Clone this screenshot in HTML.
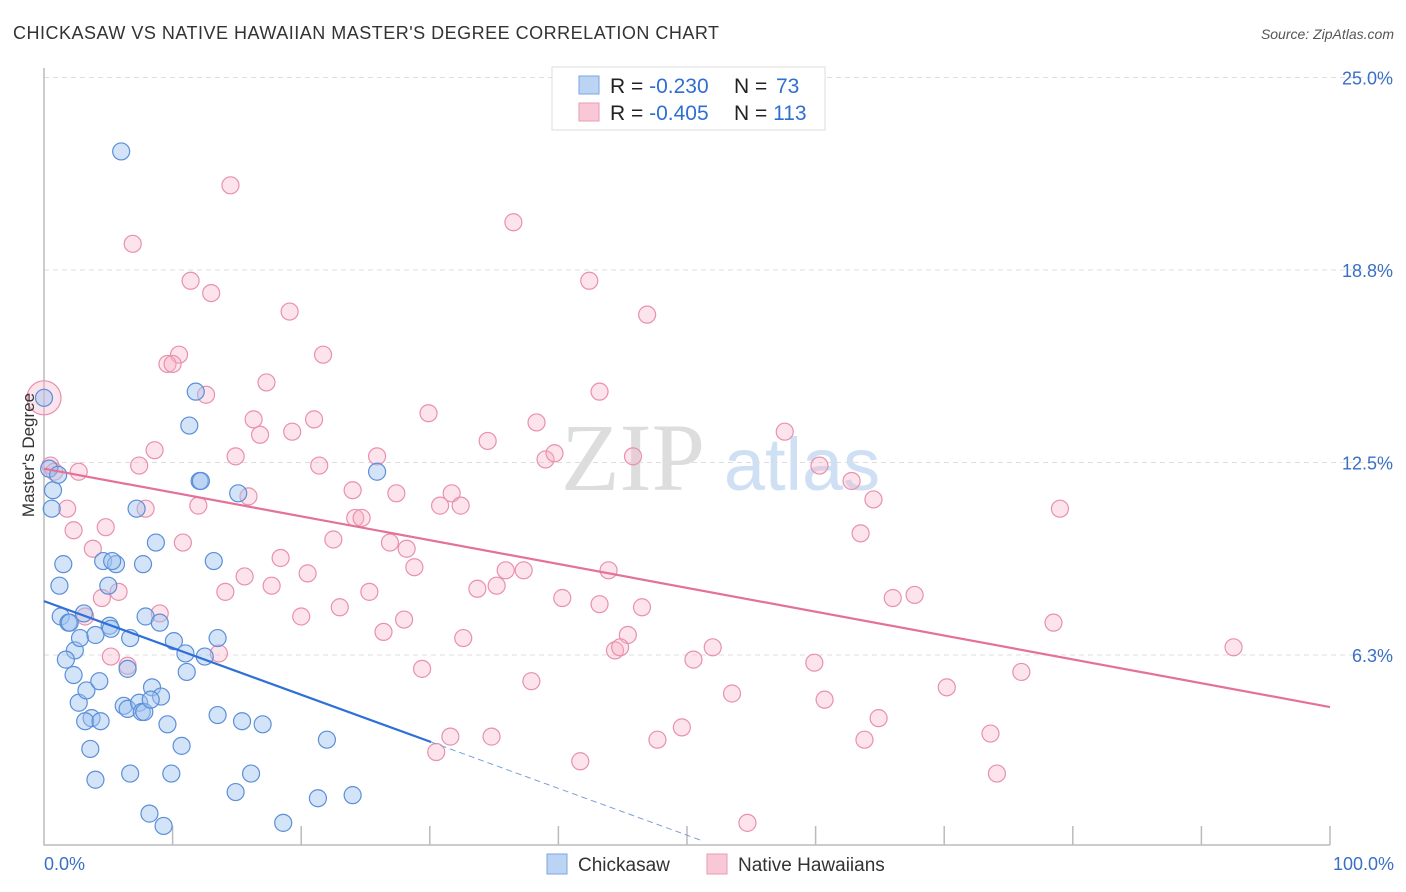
<!DOCTYPE html>
<html><head><meta charset="utf-8"><style>
body{margin:0;background:#fff;font-family:"Liberation Sans",sans-serif;}
svg{display:block}
</style></head><body>
<svg id="chart" width="1406" height="892" viewBox="0 0 1406 892">
<text x="13" y="39" font-size="18" letter-spacing="0.5" fill="#333">CHICKASAW VS NATIVE HAWAIIAN MASTER'S DEGREE CORRELATION CHART</text>
<text x="1394" y="39" font-size="14" fill="#555" font-style="italic" text-anchor="end">Source: ZipAtlas.com</text>
<g>
<text x="633" y="490" font-size="96" font-family="Liberation Serif,serif" fill="#ddd" text-anchor="middle">ZIP</text>
<text x="802" y="490" font-size="74" fill="#cfe0f4" text-anchor="middle">atlas</text>
</g>
<g id="grid"></g>
<g id="axes"></g>
<g id="marks"></g>
<g>
<rect x="552" y="67" width="273" height="63" fill="#fff" stroke="#ddd"/>
<rect x="579" y="76" width="20" height="18" fill="#bcd4f4" stroke="#7aa6e0"/>
<rect x="579" y="103" width="20" height="18" fill="#f9c8d6" stroke="#eb9ab4"/>
<text x="610" y="93" font-size="21" fill="#222">R = <tspan fill="#2f6fd0">-0.230</tspan><tspan x="734">N = </tspan><tspan fill="#2f6fd0" x="776">73</tspan></text>
<text x="610" y="120" font-size="21" fill="#222">R = <tspan fill="#2f6fd0">-0.405</tspan><tspan x="734">N = </tspan><tspan fill="#2f6fd0">113</tspan></text>
</g>
<g>
<rect x="547" y="854" width="20" height="20" fill="#bcd4f4" stroke="#7aa6e0"/>
<text x="578" y="871" font-size="19" fill="#333">Chickasaw</text>
<rect x="707" y="854" width="20" height="20" fill="#f9c8d6" stroke="#eb9ab4"/>
<text x="738" y="871" font-size="19" fill="#333">Native Hawaiians</text>
</g>
<text transform="translate(34,455) rotate(-90)" font-size="17" fill="#333" text-anchor="middle">Master's Degree</text>
</svg>
<script>
const yTicks=[6.25,12.5,18.75,25];
const yTickLabels=["6.3%","12.5%","18.8%","25.0%"];
const xTickLabels=["0.0%","100.0%"];
const blueX=[6.0,0.0,0.4,0.7,0.6,1.1,1.5,1.2,1.3,1.9,2.0,2.4,1.7,2.3,3.1,2.8,4.0,5.1,5.2,2.7,3.3,4.3,3.7,3.2,4.4,3.6,4.0,4.6,5.6,5.0,5.3,6.7,6.5,7.2,7.7,7.9,8.7,9.0,6.2,6.5,7.4,7.6,7.8,8.4,9.1,8.3,9.6,10.7,6.7,9.9,8.2,9.3,10.1,11.0,11.1,11.8,11.3,12.1,12.2,13.2,13.5,12.5,13.5,15.4,17.0,16.1,14.9,15.1,18.6,21.3,22.0,24.0,25.9];
const blueY=[22.6,14.6,12.3,11.6,11.0,12.1,9.2,8.5,7.5,7.3,7.3,6.4,6.1,5.6,7.6,6.8,6.9,7.2,7.1,4.7,5.1,5.4,4.2,4.1,4.1,3.2,2.2,9.3,9.2,8.5,9.3,6.8,5.8,11.0,9.2,7.5,9.9,7.3,4.6,4.5,4.7,4.4,4.4,5.2,4.9,4.8,4.0,3.3,2.4,2.4,1.1,0.7,6.7,6.3,5.7,14.8,13.7,11.9,11.9,9.3,6.8,6.2,4.3,4.1,4.0,2.4,1.8,11.5,0.8,1.6,3.5,1.7,12.2];
const pinkX=[14.5,6.9,36.5,11.4,13.0,19.1,42.4,46.9,10.5,9.6,10.0,21.7,12.6,17.3,43.2,16.3,21.0,29.9,38.3,57.6,16.8,19.3,34.5,8.6,14.9,25.9,39.0,39.7,45.8,0.5,0.8,2.7,7.4,21.4,60.3,62.8,15.9,24.0,27.4,31.7,1.8,7.9,12.0,30.8,32.4,64.5,24.2,24.7,79.0,2.3,4.8,22.5,26.9,28.2,63.5,10.8,3.8,18.4,15.6,20.5,28.8,35.9,37.3,43.9,5.8,14.1,17.7,33.7,35.2,4.5,9.0,23.0,25.3,40.3,43.2,46.5,66.0,67.7,3.2,20.0,28.0,45.4,26.4,32.6,78.5,44.4,44.8,52.0,92.5,5.2,6.5,13.6,50.5,59.9,29.4,37.9,76.0,70.2,53.5,60.7,64.9,49.6,31.6,34.8,47.7,63.8,73.6,30.5,41.7,74.1,54.7];
const pinkY=[21.5,19.6,20.3,18.4,18.0,17.4,18.4,17.3,16.0,15.7,15.7,16.0,14.7,15.1,14.8,13.9,13.9,14.1,13.8,13.5,13.4,13.5,13.2,12.9,12.7,12.7,12.6,12.8,12.7,12.4,12.2,12.2,12.4,12.4,12.4,11.9,11.4,11.6,11.5,11.5,11.0,11.0,11.1,11.1,11.1,11.3,10.7,10.7,11.0,10.3,10.4,10.0,9.9,9.7,10.2,9.9,9.7,9.4,8.8,8.9,9.1,9.0,9.0,9.0,8.3,8.3,8.5,8.4,8.5,8.1,7.6,7.8,8.3,8.1,7.9,7.8,8.1,8.2,7.5,7.5,7.4,6.9,7.0,6.8,7.3,6.4,6.5,6.5,6.5,6.2,5.9,6.3,6.1,6.0,5.8,5.4,5.7,5.2,5.0,4.8,4.2,3.9,3.6,3.6,3.5,3.5,3.7,3.1,2.8,2.4,0.8];
const bigPink=[0.0,14.6];
const blueTrend=[8.0,-0.152];
const pinkTrend=[12.3,-0.0774];
const blueSolidEnd=30.1, blueDashEnd=51;

const NS="http://www.w3.org/2000/svg";
const X0=44,X1=1330,Y0=847.5,PXY=30.8;
const sx=v=>X0+(X1-X0)*v/100;
const sy=v=>Y0-v*PXY;
function mk(tag,attrs,parent){const e=document.createElementNS(NS,tag);for(const k in attrs)e.setAttribute(k,attrs[k]);parent.appendChild(e);return e;}
const grid=document.getElementById('grid'),axes=document.getElementById('axes'),marks=document.getElementById('marks');
yTicks.forEach((t,i)=>{
 const l=mk('line',{x1:X0,x2:1394,y1:sy(t),y2:sy(t),stroke:'#ddd','stroke-dasharray':'5,4'},grid);
 
 
 const tx=mk('text',{x:1393,y:sy(t)+7,'font-size':18,fill:'#3a6fc6','text-anchor':'end'},axes);
 tx.textContent=yTickLabels[i];
 
 
});
const ax=mk('path',{d:`M${X0} 68V845H${X1}`,fill:'none',stroke:'#bbb','stroke-width':1.5},axes);


for(let i=1;i<=10;i++){
 const t=mk('line',{x1:sx(i*10),x2:sx(i*10),y1:826,y2:845,stroke:'#bbb','stroke-width':1.5},axes);
 
 
}
[[0,'start',44],[100,'end',1394]].forEach((o,i)=>{
 const t=mk('text',{x:o[2],y:870,'font-size':18,fill:'#3a6fc6','text-anchor':o[1]},axes);
 t.textContent=xTickLabels[i];
 
 
});
function dots(xs,ys,fill,stroke,name){
 xs.forEach((x,i)=>{
  const c=mk('circle',{cx:sx(x),cy:sy(ys[i]),r:8.5,fill:fill,stroke:stroke,'stroke-width':1.2},marks);
  
  
 });
}
dots(pinkX,pinkY,'rgba(248,176,198,0.35)','#e891ad','native-hawaiian-point');
const bp=mk('circle',{cx:sx(bigPink[0]),cy:sy(bigPink[1]),r:17,fill:'rgba(248,176,198,0.35)',stroke:'#e891ad','stroke-width':1.2},marks);


dots(blueX,blueY,'rgba(160,196,240,0.45)','#5b8fd8','chickasaw-point');
const f=(tr,x)=>tr[0]+tr[1]*x;
const pl=mk('line',{x1:sx(0),y1:sy(f(pinkTrend,0)),x2:sx(100),y2:sy(f(pinkTrend,100)),stroke:'#e4719a','stroke-width':2.2},marks);


const bl=mk('line',{x1:sx(0),y1:sy(f(blueTrend,0)),x2:sx(blueSolidEnd),y2:sy(f(blueTrend,blueSolidEnd)),stroke:'#2f6fd8','stroke-width':2.2},marks);


const bd=mk('line',{x1:sx(blueSolidEnd),y1:sy(f(blueTrend,blueSolidEnd)),x2:sx(blueDashEnd),y2:sy(f(blueTrend,blueDashEnd)),stroke:'#7aa0d8','stroke-width':1,'stroke-dasharray':'6,4'},marks);


</script>
</body></html>
